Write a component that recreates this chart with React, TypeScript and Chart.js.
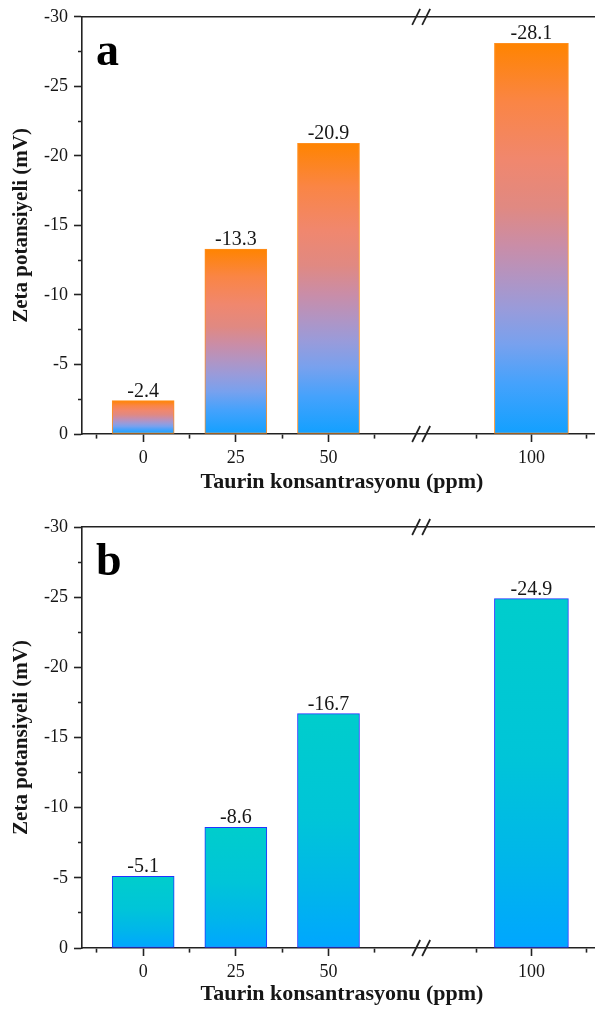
import React, { useEffect, useRef } from 'react';
import { Chart, registerables } from 'chart.js';

Chart.register(...registerables);

// ---------- data ----------
const categories = [0, 25, 50, 100];
const zetaA = [-2.4, -13.3, -20.9, -28.1];
const zetaB = [-5.1, -8.6, -16.7, -24.9];
const xMinorTicks = [-12.5, 12.5, 37.5, 62.5, 87.5, 112.5];
const Y_MIN = -30;
const Y_MAX = 0;
const Y_TICK_STEP = 2.5;
const Y_LABEL_STEP = 5;
const X_MIN = -16.5;
const X_MAX = 116;
const BREAK_AT = 75;
const POST_BREAK_STRETCH = 1.19;

const xTitle = 'Taurin konsantrasyonu (ppm)';
const yTitle = 'Zeta potansiyeli (mV)';

// ---------- layout / style ----------
const CANVAS_W = 612;
const CANVAS_H = 507;
const FONT = "'Liberation Serif', 'Times New Roman', serif";
const AXIS_COLOR = '#222';
const TEXT_COLOR = '#161616';
const MAJOR_TICK = 8;
const MINOR_TICK = 4;

const gradientA: [number, string][] = [
  [0, '#FF8400'],
  [0.15, '#FA8545'],
  [0.3, '#F0876E'],
  [0.42, '#E08982'],
  [0.52, '#C98DA8'],
  [0.6, '#B294C2'],
  [0.68, '#999BDA'],
  [0.77, '#78A1EE'],
  [0.87, '#45A2FC'],
  [1, '#12A0FF'],
];
const gradientB: [number, string][] = [
  [0, '#00CDCC'],
  [0.45, '#00C5D8'],
  [0.75, '#00B6EA'],
  [1, '#00A6FF'],
];

function axisPos(ppm: number): number {
  return ppm <= BREAK_AT ? ppm : BREAK_AT + (ppm - BREAK_AT) * POST_BREAK_STRETCH;
}

const near = (a: number, b: number) => Math.abs(a - b) < 1e-6;
const isMajorY = (v: number) => near(v / Y_LABEL_STEP, Math.round(v / Y_LABEL_STEP));
const xMajorPositions = categories.map(axisPos);
const isMajorX = (v: number) => xMajorPositions.some((p) => near(p, v));

// ---------- plugins ----------
const valueLabelPlugin = {
  id: 'valueLabels',
  afterDatasetsDraw(chart: any) {
    const ctx = chart.ctx;
    ctx.save();
    ctx.font = `20px ${FONT}`;
    ctx.fillStyle = TEXT_COLOR;
    ctx.textAlign = 'center';
    ctx.textBaseline = 'alphabetic';
    chart.data.datasets.forEach((ds: any, di: number) => {
      const meta = chart.getDatasetMeta(di);
      meta.data.forEach((el: any, i: number) => {
        const raw = ds.data[i];
        ctx.fillText(raw.y.toFixed(1), el.x, el.y - 4);
      });
    });
    ctx.restore();
  },
};

const panelDecorPlugin = {
  id: 'panelDecor',
  afterDraw(chart: any, _args: any, opts: any) {
    const ctx = chart.ctx;
    const area = chart.chartArea;
    const xs = chart.scales.x;
    ctx.save();
    // panel letter
    ctx.font = `bold 46px ${FONT}`;
    ctx.fillStyle = '#000';
    ctx.textAlign = 'left';
    ctx.textBaseline = 'alphabetic';
    ctx.fillText(opts.letter, area.left + 14, area.top + 48);
    // axis break marks on top and bottom axes
    const bx = xs.getPixelForValue(axisPos(BREAK_AT));
    ctx.strokeStyle = AXIS_COLOR;
    ctx.lineWidth = 1.8;
    [area.top, area.bottom].forEach((y: number) => {
      [-5, 5].forEach((dx) => {
        ctx.beginPath();
        ctx.moveTo(bx + dx - 4, y + 8);
        ctx.lineTo(bx + dx + 4, y - 8);
        ctx.stroke();
      });
    });
    ctx.restore();
  },
};

// ---------- config ----------
interface PanelStyle {
  letter: string;
  stops: [number, string][];
  border: string;
  topPad: number;
  xAxisHeight: number;
  titlePadBottom: number;
}

function makeGradient(stops: [number, string][]) {
  return (ctx: any) => {
    const chart = ctx.chart;
    const yS = chart.scales && chart.scales.y;
    const fallback = stops[stops.length - 1][1];
    if (!chart.chartArea || !yS || ctx.type !== 'data' || !ctx.raw) return fallback;
    const top = yS.getPixelForValue(ctx.raw.y);
    const bottom = yS.getPixelForValue(0);
    if (!isFinite(top) || !isFinite(bottom) || near(top, bottom)) return fallback;
    const g = chart.ctx.createLinearGradient(0, top, 0, bottom);
    stops.forEach(([o, c]) => g.addColorStop(o, c));
    return g;
  };
}

function makeConfig(values: number[], panel: PanelStyle): any {
  const points = categories.map((c, i) => ({ x: axisPos(c), y: values[i] }));
  const before = points.filter((_, i) => categories[i] < BREAK_AT);
  const after = points.filter((_, i) => categories[i] > BREAK_AT);
  const common = {
    grouped: false,
    backgroundColor: makeGradient(panel.stops),
    borderColor: panel.border,
    borderWidth: 1,
    borderSkipped: false,
  };
  const xTicks = [...xMajorPositions, ...xMinorTicks.map(axisPos)].sort((a, b) => a - b);
  return {
    type: 'bar',
    data: {
      datasets: [
        { ...common, data: before, barThickness: 62 },
        { ...common, data: after, barThickness: 74 },
      ],
    },
    plugins: [valueLabelPlugin, panelDecorPlugin],
    options: {
      responsive: false,
      animation: false,
      devicePixelRatio: 1,
      layout: { padding: { top: panel.topPad, left: 0, right: CANVAS_W - 602, bottom: 0 } },
      plugins: {
        legend: { display: false },
        tooltip: { enabled: false },
        panelDecor: { letter: panel.letter },
      },
      scales: {
        x: {
          type: 'linear',
          position: 'bottom',
          min: axisPos(X_MIN),
          max: axisPos(X_MAX),
          offset: false,
          afterBuildTicks: (s: any) => {
            s.ticks = xTicks.map((v) => ({ value: v }));
          },
          afterFit: (s: any) => {
            s.height = panel.xAxisHeight;
          },
          ticks: {
            autoSkip: false,
            maxRotation: 0,
            padding: 5,
            color: TEXT_COLOR,
            font: { family: FONT, size: 18 },
            callback: (v: number) => {
              const i = xMajorPositions.findIndex((p) => near(p, v));
              return i >= 0 ? String(categories[i]) : '';
            },
          },
          grid: {
            display: true,
            offset: false,
            drawOnChartArea: false,
            drawTicks: true,
            tickLength: MAJOR_TICK,
            tickWidth: 1.6,
            tickColor: AXIS_COLOR,
            tickBorderDash: (ctx: any) =>
              ctx.tick && isMajorX(ctx.tick.value) ? [] : [MINOR_TICK, 100],
          },
          border: { display: true, color: AXIS_COLOR, width: 1.6 },
          title: {
            display: true,
            text: xTitle,
            color: TEXT_COLOR,
            font: { family: FONT, size: 22, weight: 'bold' },
            padding: { top: 0, bottom: panel.titlePadBottom },
          },
        },
        xTop: {
          type: 'linear',
          position: 'top',
          min: axisPos(X_MIN),
          max: axisPos(X_MAX),
          offset: false,
          afterFit: (s: any) => {
            s.height = 0;
          },
          ticks: { display: false },
          grid: { display: false, drawTicks: false, drawOnChartArea: false },
          border: { display: true, color: AXIS_COLOR, width: 1.6 },
        },
        y: {
          type: 'linear',
          position: 'left',
          min: Y_MIN,
          max: Y_MAX,
          reverse: true,
          afterFit: (s: any) => {
            s.width = 82;
          },
          ticks: {
            stepSize: Y_TICK_STEP,
            autoSkip: false,
            padding: 6,
            color: TEXT_COLOR,
            font: { family: FONT, size: 18 },
            callback: (v: number) => (isMajorY(v) ? String(v === 0 ? 0 : v) : ''),
          },
          grid: {
            display: true,
            drawOnChartArea: false,
            drawTicks: true,
            tickLength: MAJOR_TICK,
            tickWidth: 1.6,
            tickColor: AXIS_COLOR,
            tickBorderDash: (ctx: any) =>
              ctx.tick && isMajorY(ctx.tick.value)
                ? []
                : [0, MAJOR_TICK - MINOR_TICK, MINOR_TICK, 100],
          },
          border: { display: true, color: AXIS_COLOR, width: 1.6 },
          title: {
            display: true,
            text: yTitle,
            color: TEXT_COLOR,
            font: { family: FONT, size: 21, weight: 'bold' },
            padding: { top: 9, bottom: 0 },
          },
        },
      },
    },
  };
}

const panelA: PanelStyle = {
  letter: 'a',
  stops: gradientA,
  border: '#FF8F1F',
  topPad: 12,
  xAxisHeight: 73,
  titlePadBottom: 11,
};
const panelB: PanelStyle = {
  letter: 'b',
  stops: gradientB,
  border: '#2233FF',
  topPad: 20,
  xAxisHeight: 66,
  titlePadBottom: 6,
};

function ZetaChart({ values, panel, top }: { values: number[]; panel: PanelStyle; top: number }) {
  const ref = useRef<HTMLCanvasElement>(null);
  useEffect(() => {
    if (!ref.current) return;
    const chart = new Chart(ref.current, makeConfig(values, panel));
    return () => chart.destroy();
  }, [values, panel]);
  return (
    <div style={{ position: 'absolute', left: 0, top, width: CANVAS_W, height: CANVAS_H }}>
      <canvas ref={ref} width={CANVAS_W} height={CANVAS_H} style={{ display: 'block' }} />
    </div>
  );
}

export default function App() {
  return (
    <div
      style={{
        position: 'absolute',
        left: 0,
        top: 0,
        width: 595,
        height: 1014,
        overflow: 'hidden',
        background: '#fff',
      }}
    >
      <ZetaChart values={zetaA} panel={panelA} top={0} />
      <ZetaChart values={zetaB} panel={panelB} top={CANVAS_H} />
    </div>
  );
}
